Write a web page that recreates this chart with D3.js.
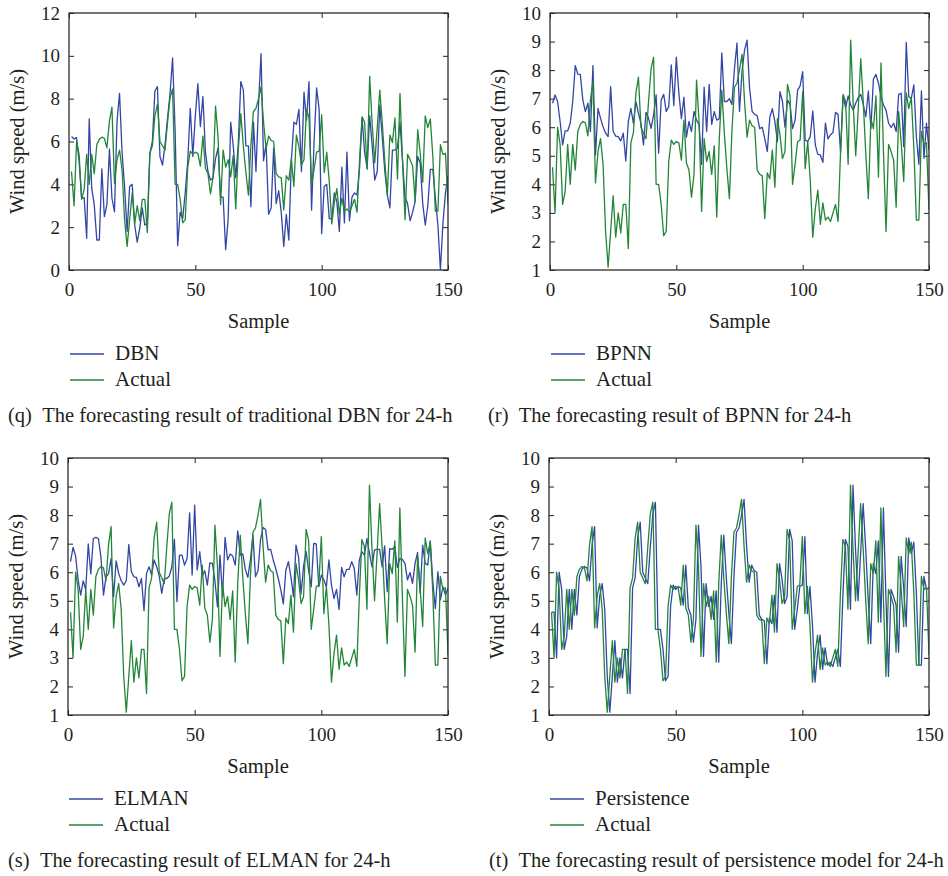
<!DOCTYPE html>
<html>
<head>
<meta charset="utf-8">
<script src="https://cdn.jsdelivr.net/npm/d3@7"></script>
<style>
  body { margin: 0; background: #fff; }
  svg { display: block; font-family: "Liberation Serif", "Times New Roman", serif; }
</style>
</head>
<body>
<svg id="chart" width="948" height="876"></svg>
<script>
// ---------------------------------------------------------------------------
// data (wind speed, m/s), samples 1..150
// ---------------------------------------------------------------------------
const X_TICKS = [0, 50, 100, 150];
const Y_TICKS_DBN = [0, 2, 4, 6, 8, 10, 12];
const Y_TICKS_OTHER = [1, 2, 3, 4, 5, 6, 7, 8, 9, 10];

const ACTUAL = [
  4.6, 3.0, 6.0, 5.4, 3.3, 3.75, 5.4, 4.0, 5.4, 4.5, 5.85, 6.1, 6.2, 6.15, 5.7, 6.95, 7.6,
  4.05, 5.15, 5.6, 4.7, 2.35, 1.1, 2.35, 3.6, 2.15, 3.0, 2.3, 3.3, 3.3, 1.75,
  5.45, 5.8, 7.2, 7.75, 6.0, 5.8, 5.6, 6.9, 8.05, 8.45, 4.0, 4.0, 3.3, 2.2, 2.35, 4.8,
  5.55, 5.4, 5.5, 5.45, 4.85, 6.25, 4.75, 4.5, 3.55, 4.35, 7.65, 6.2, 3.05,
  5.6, 4.8, 5.15, 4.35, 5.35, 2.85, 5.6, 7.3, 5.8, 4.55, 3.5, 5.85, 7.4, 7.55, 8.0,
  8.55, 6.9, 5.65, 6.25, 6.05, 6.0, 4.5, 4.35, 4.3, 2.8, 4.4, 4.2, 5.2, 3.9, 6.3,
  5.75, 4.9, 5.15, 7.5, 7.1, 4.0, 4.7, 5.5, 5.55, 7.25, 4.55, 5.5, 4.15, 2.15, 3.15,
  3.8, 2.6, 3.35, 2.75, 2.85, 2.7, 3.0, 3.3, 2.7, 5.15, 7.15, 6.9, 4.7, 9.05, 6.8,
  5.0, 6.65, 8.4, 6.85, 5.05, 3.5, 6.3, 5.95, 7.1, 4.25, 8.25, 5.1, 2.35, 5.4, 5.15,
  4.85, 3.2, 6.55, 5.45, 4.1, 7.2, 6.65, 7.05, 5.3, 2.75, 2.75, 5.85, 5.4, 5.45, 3.1
];

const DBN = [
  6.23, 6.12, 6.18, 5.06, 3.35, 3.38, 1.48, 7.05, 3.81, 3.04, 1.4, 1.4, 4.72, 2.49, 3.04, 5.65, 3.35, 2.72, 6.93, 8.25,
  5.5, 3.9, 1.8, 3.9, 4.0, 2.1, 1.3, 1.95, 2.9, 2.1, 2.2, 5.45, 6.0, 8.36, 8.56, 5.3, 4.9, 5.84, 7.08, 8.25,
  9.9, 6.5, 1.14, 2.7, 2.4, 3.6, 5.1, 7.55, 5.3, 7.2, 8.7, 6.7, 8.1, 5.5, 4.6, 4.2, 4.3, 5.2, 5.7, 3.4,
  3.4, 0.95, 2.4, 6.9, 5.8, 4.3, 5.9, 8.8, 8.4, 5.8, 5.8, 2.95, 6.9, 4.6, 7.7, 10.1, 5.1, 5.9, 2.6, 2.9,
  5.7, 3.1, 3.7, 2.7, 1.1, 2.6, 1.4, 5.1, 6.9, 6.8, 7.5, 4.6, 8.3, 7.0, 8.8, 2.8, 6.0, 8.5, 7.5, 1.7,
  3.9, 4.0, 2.4, 2.4, 3.6, 3.2, 1.8, 4.8, 2.2, 5.5, 2.3, 3.4, 3.6, 3.5, 4.75, 7.1, 5.5, 4.75, 7.2, 5.8,
  4.2, 4.6, 7.7, 6.2, 4.6, 3.5, 2.9, 5.6, 5.6, 5.7, 6.9, 5.1, 3.4, 3.1, 2.3, 2.7, 3.2, 5.3, 5.0, 3.1,
  2.1, 3.0, 4.7, 4.7, 3.35, 2.1, 0.0, 2.2, 3.6, 4.4
];

const BPNN = [
  6.84, 7.13, 6.9, 6.2, 5.38, 5.87, 5.87, 6.14, 6.9, 8.16, 7.86, 7.85, 6.95, 6.55, 6.84, 5.85, 8.16, 5.03, 6.66, 6.31,
  6.02, 5.79, 5.67, 7.42, 5.85, 5.69, 5.67, 5.52, 5.79, 4.82, 6.2, 6.66, 6.14, 6.9, 6.49, 6.14, 5.38, 6.52, 6.31, 5.96,
  6.43, 7.13, 5.09, 6.95, 7.15, 6.55, 6.72, 8.18, 6.76, 8.45, 7.2, 6.3, 7.05, 5.65, 6.2, 5.85, 6.55, 6.25, 6.1, 4.7,
  7.4, 5.85, 7.5, 6.1, 6.55, 6.25, 6.3, 8.6, 6.9, 6.9, 7.0, 6.8, 8.05, 8.95, 6.55, 7.95, 8.7, 9.05, 7.35, 6.55,
  6.45, 6.4, 5.95, 6.0, 5.6, 5.15, 6.35, 6.65, 6.2, 5.5, 7.25, 6.9, 6.0, 6.95, 6.8, 5.95, 6.25, 7.3, 7.45, 7.95,
  5.55, 5.5, 5.67, 6.57, 5.38, 5.05, 5.03, 4.77, 6.14, 5.59, 5.73, 5.82, 6.52, 6.45, 5.12, 7.1, 6.69, 7.1, 6.78, 6.6,
  6.84, 7.04, 7.15, 6.78, 6.37, 7.27, 5.96, 7.69, 7.85, 7.54, 7.07, 6.78, 6.6, 6.14, 5.99, 6.14, 5.85, 7.15, 7.19, 5.32,
  8.97, 7.07, 7.01, 7.48, 5.67, 4.7, 7.27, 4.91, 6.14, 5.2
];

const ELMAN = [
  6.37, 6.87, 6.57, 5.73, 5.2, 5.7, 5.38, 6.99, 5.94, 7.18, 7.22, 7.18, 6.54, 5.2, 5.84, 5.94, 6.48, 5.14, 6.4, 5.96,
  5.7, 5.55, 5.7, 6.97, 6.02, 5.84, 5.82, 5.49, 5.78, 4.65, 5.96, 6.19, 5.9, 6.43, 6.19, 5.87, 5.26, 5.78, 5.78, 5.87,
  6.19, 7.15, 4.97, 6.6, 6.6, 6.25, 6.48, 8.08, 5.9, 8.35, 6.08, 6.72, 5.87, 6.05, 5.55, 6.33, 6.31, 5.7, 4.79, 6.6,
  5.14, 7.22, 6.43, 6.64, 6.57, 6.25, 7.45, 6.6, 6.64, 6.1, 5.82, 6.43, 7.3, 5.84, 6.05, 7.13, 7.57, 7.5, 6.78, 6.8,
  6.43, 6.13, 5.78, 5.38, 4.89, 6.08, 6.37, 5.84, 5.14, 6.95, 6.54, 5.24, 6.22, 6.72, 6.05, 5.49, 7.01, 6.99, 5.49, 5.9,
  5.73, 5.49, 6.43, 5.55, 5.08, 5.4, 4.7, 6.17, 5.84, 6.1, 6.1, 6.37, 6.13, 5.2, 6.43, 6.72, 6.6, 7.18, 6.66, 6.19,
  6.78, 6.8, 6.8, 6.19, 6.92, 5.32, 6.83, 6.8, 6.9, 6.17, 6.48, 6.45, 6.31, 5.73, 5.99, 5.61, 6.31, 6.69, 5.26, 6.95,
  6.31, 6.25, 7.1, 5.67, 4.73, 6.02, 5.03, 5.49, 5.2, 5.43
];

const PERSISTENCE = [
  4.6, 4.6, 3.0, 6.0, 5.4, 3.3, 3.75, 5.4, 4.0, 5.4, 4.5, 5.85, 6.1, 6.2, 6.15, 5.7, 6.95, 7.6,
  4.05, 5.15, 5.6, 4.7, 2.35, 1.1, 2.35, 3.6, 2.15, 3.0, 2.3, 3.3, 3.3, 1.75,
  5.45, 5.8, 7.2, 7.75, 6.0, 5.8, 5.6, 6.9, 8.05, 8.45, 4.0, 4.0, 3.3, 2.2, 2.35, 4.8,
  5.55, 5.4, 5.5, 5.45, 4.85, 6.25, 4.75, 4.5, 3.55, 4.35, 7.65, 6.2, 3.05,
  5.6, 4.8, 5.15, 4.35, 5.35, 2.85, 5.6, 7.3, 5.8, 4.55, 3.5, 5.85, 7.4, 7.55, 8.0,
  8.55, 6.9, 5.65, 6.25, 6.05, 6.0, 4.5, 4.35, 4.3, 2.8, 4.4, 4.2, 5.2, 3.9, 6.3,
  5.75, 4.9, 5.15, 7.5, 7.1, 4.0, 4.7, 5.5, 5.55, 7.25, 4.55, 5.5, 4.15, 2.15, 3.15,
  3.8, 2.6, 3.35, 2.75, 2.85, 2.7, 3.0, 3.3, 2.7, 5.15, 7.15, 6.9, 4.7, 9.05, 6.8,
  5.0, 6.65, 8.4, 6.85, 5.05, 3.5, 6.3, 5.95, 7.1, 4.25, 8.25, 5.1, 2.35, 5.4, 5.15,
  4.85, 3.2, 6.55, 5.45, 4.1, 7.2, 6.65, 7.05, 5.3, 2.75, 2.75, 5.85, 5.4, 5.45
];

// ---------------------------------------------------------------------------
// layout
// ---------------------------------------------------------------------------
const BLUE = '#3346a6', GREEN = '#228538', INK = '#231f20';
const TICK_FONT = 19, TITLE_FONT = 20.5, LEGEND_FONT = 21, CAP_FONT = 20.5;
const ROW_DY = 445;

const PANELS = [
  { left: 69, right: 448, row: 0, domain: [0, 12], ticks: Y_TICKS_DBN, model: DBN, name: 'DBN',
    capX: 8, caption: '(q)\u2002The forecasting result of traditional DBN for 24-h' },
  { left: 550, right: 929, row: 0, domain: [1, 10], ticks: Y_TICKS_OTHER, model: BPNN, name: 'BPNN',
    capX: 488, caption: '(r)\u2002The forecasting result of BPNN for 24-h' },
  { left: 68, right: 448, row: 1, domain: [1, 10], ticks: Y_TICKS_OTHER, model: ELMAN, name: 'ELMAN',
    capX: 8, caption: '(s)\u2002The forecasting result of ELMAN for 24-h' },
  { left: 549, right: 929, row: 1, domain: [1, 10], ticks: Y_TICKS_OTHER, model: PERSISTENCE, name: 'Persistence',
    capX: 489, caption: '(t)\u2002The forecasting result of persistence model for 24-h' }
];

const svg = d3.select('#chart');

function styleAxis(g, showText) {
  g.attr('font-family', null).attr('font-size', null).attr('color', INK);
  g.select('.domain').remove();
  g.selectAll('.tick line').attr('stroke-width', 1);
  if (showText) g.selectAll('text').style('font-size', TICK_FONT + 'px').attr('fill', INK);
  else g.selectAll('text').remove();
}

function drawPanel(p, idx) {
  const off = p.row * ROW_DY;
  const top = 13 + off, bottom = 270 + off;

  const x = d3.scaleLinear().domain([0, 150]).range([p.left, p.right]);
  const y = d3.scaleLinear().domain(p.domain).range([bottom, top]);

  const g = svg.append('g');

  g.append('clipPath').attr('id', 'clip' + idx)
    .append('rect')
    .attr('x', p.left).attr('y', top)
    .attr('width', p.right - p.left).attr('height', bottom - top);

  // ticks on all four sides, pointing inward (MATLAB box style)
  g.append('g').attr('transform', `translate(0,${bottom})`)
    .call(d3.axisBottom(x).tickValues(X_TICKS).tickSize(-5).tickPadding(13))
    .call(a => styleAxis(a, true));
  g.append('g').attr('transform', `translate(0,${top})`)
    .call(d3.axisTop(x).tickValues(X_TICKS).tickSize(-5))
    .call(a => styleAxis(a, false));
  g.append('g').attr('transform', `translate(${p.left},0)`)
    .call(d3.axisLeft(y).tickValues(p.ticks).tickSize(-5).tickPadding(9))
    .call(a => styleAxis(a, true));
  g.append('g').attr('transform', `translate(${p.right},0)`)
    .call(d3.axisRight(y).tickValues(p.ticks).tickSize(-5))
    .call(a => styleAxis(a, false));

  const line = d3.line()
    .x((d, i) => x(i + 1))
    .y(d => y(d));

  const lines = g.append('g').attr('clip-path', `url(#clip${idx})`);
  lines.append('path')
    .attr('d', line(p.model))
    .attr('fill', 'none')
    .attr('stroke', BLUE)
    .attr('stroke-width', 1.3)
    .attr('stroke-linejoin', 'round');
  lines.append('path')
    .attr('d', line(ACTUAL))
    .attr('fill', 'none')
    .attr('stroke', GREEN)
    .attr('stroke-width', 1.3)
    .attr('stroke-linejoin', 'round');

  // frame
  g.append('rect')
    .attr('x', p.left).attr('y', top)
    .attr('width', p.right - p.left).attr('height', bottom - top)
    .attr('fill', 'none')
    .attr('stroke', '#2b2b2b')
    .attr('stroke-width', 1.3);

  // axis titles
  g.append('text')
    .attr('transform', `translate(${p.left - 45},${(top + bottom) / 2}) rotate(-90)`)
    .attr('text-anchor', 'middle')
    .attr('fill', INK)
    .style('font-size', TITLE_FONT + 'px')
    .text('Wind speed (m/s)');

  g.append('text')
    .attr('x', (p.left + p.right) / 2)
    .attr('y', 328 + off)
    .attr('text-anchor', 'middle')
    .attr('fill', INK)
    .style('font-size', TITLE_FONT + 'px')
    .text('Sample');

  // legend
  [[p.name, BLUE], ['Actual', GREEN]].forEach(([label, color], i) => {
    const ly = 354 + off + i * 26;
    g.append('line')
      .attr('x1', p.left + 1).attr('x2', p.left + 35)
      .attr('y1', ly).attr('y2', ly)
      .attr('stroke', color).attr('stroke-width', 1.3);
    g.append('text')
      .attr('x', p.left + 46)
      .attr('y', ly + 6)
      .attr('fill', INK)
      .style('font-size', LEGEND_FONT + 'px')
      .text(label);
  });

  g.append('text')
    .attr('x', p.capX)
    .attr('y', 422 + off)
    .attr('fill', INK)
    .style('font-size', CAP_FONT + 'px')
    .text(p.caption);
}

PANELS.forEach(drawPanel);
</script>
</body>
</html>
